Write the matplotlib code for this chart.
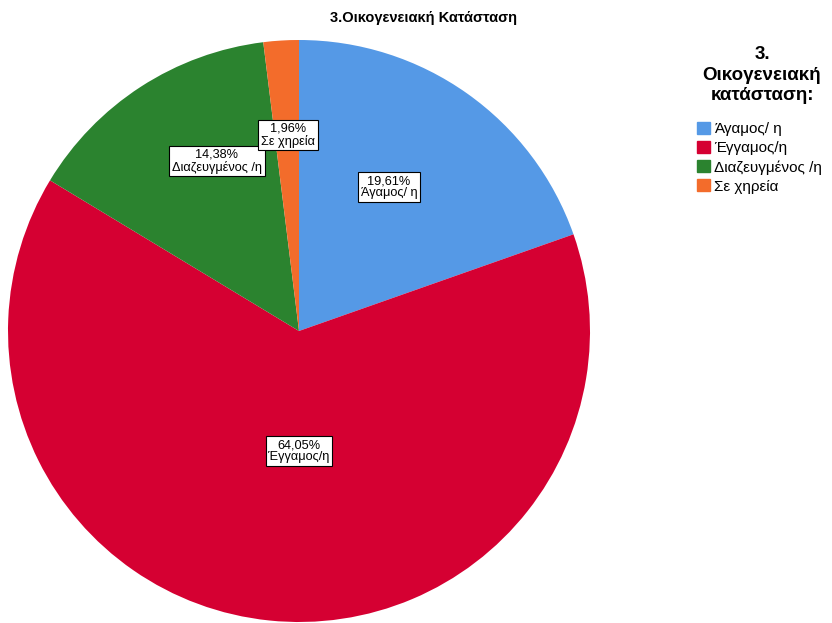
import matplotlib.pyplot as plt
import matplotlib.patches as mpatches

plt.rcParams['font.family'] = ['Liberation Sans', 'DejaVu Sans']

categories = ["Άγαμος/ η", "Έγγαμος/η", "Διαζευγμένος /η", "Σε χηρεία"]
percents = [19.61, 64.05, 14.38, 1.96]
colors = ["#5599E6", "#D50032", "#2B832F", "#F36C2B"]

# label box centres, in pixels from the top-left corner
label_pos = [(389, 187), (299, 451), (217, 161), (288, 135)]

W, H = 832, 623
fig = plt.figure(figsize=(W / 100, H / 100), dpi=100)
ax = fig.add_axes([0, 0, 1, 1])

wedges, _ = ax.pie(percents, colors=colors, startangle=90, counterclock=False,
                   center=(299, H - 331), radius=291,
                   wedgeprops=dict(linewidth=0))

# pie() resets the limits, so fix them afterwards
ax.set_xlim(0, W)
ax.set_ylim(0, H)
ax.set_aspect("equal")
ax.axis("off")

for pct, name, (x, y) in zip(percents, categories, label_pos):
    txt = f"{pct:.2f}%".replace(".", ",") + "\n" + name
    ax.text(x, H - y, txt, ha="center", va="center", fontsize=9.2,
            linespacing=1.0,
            bbox=dict(boxstyle="square,pad=0.22", fc="white", ec="black", lw=0.8))

fig.text(424 / W, 1 - 18 / H, "3.Οικογενειακή Κατάσταση", ha="center", va="center",
         fontsize=10.5, fontweight="bold")

# legend heading
fig.text(762 / W, 1 - 75 / H, "3.\nΟικογενειακή\nκατάσταση:", ha="center", va="center",
         fontsize=13.5, fontweight="bold", linespacing=1.3)

handles = [mpatches.Patch(color=c, label=n) for c, n in zip(colors, categories)]
fig.legend(handles=handles, loc="upper left", bbox_to_anchor=(691 / W, 1 - 116 / H),
           frameon=False, fontsize=11, handlelength=0.85, handleheight=0.85,
           handletextpad=0.25, labelspacing=0.3, borderaxespad=0)

fig.savefig("out.png", dpi=100)
